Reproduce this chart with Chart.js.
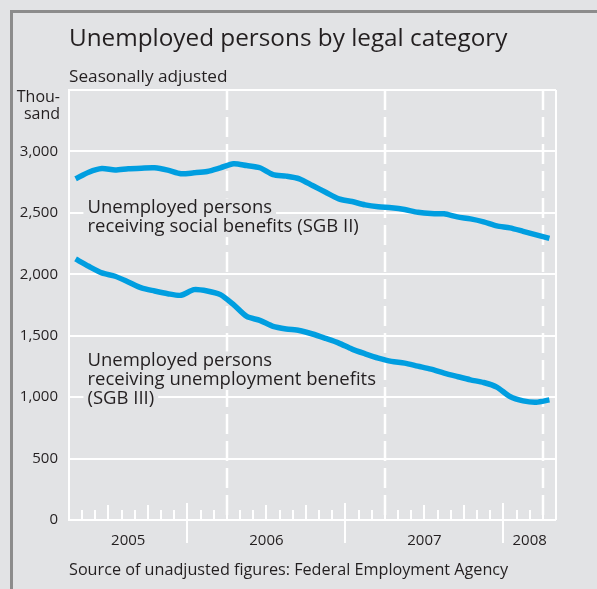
<!DOCTYPE html>
<html>
<head>
<meta charset="utf-8">
<script src="https://cdn.jsdelivr.net/npm/chart.js@4.4.1/dist/chart.umd.min.js"></script>
<style>
    html, body { margin: 0; padding: 0; background: #e2e3e5; }
    #chart_container { width: 597px; height: 589px; }
</style>
</head>
<body>
<div id="chart_container">
    <canvas id="unemployed_chart" width="597" height="589"></canvas>
</div>
<script>
    // one value per month, April 2005 - April 2008, thousand persons
    const months = [
        'Apr 2005', 'May 2005', 'Jun 2005', 'Jul 2005', 'Aug 2005', 'Sep 2005', 'Oct 2005', 'Nov 2005', 'Dec 2005',
        'Jan 2006', 'Feb 2006', 'Mar 2006', 'Apr 2006', 'May 2006', 'Jun 2006', 'Jul 2006', 'Aug 2006', 'Sep 2006',
        'Oct 2006', 'Nov 2006', 'Dec 2006',
        'Jan 2007', 'Feb 2007', 'Mar 2007', 'Apr 2007', 'May 2007', 'Jun 2007', 'Jul 2007', 'Aug 2007', 'Sep 2007',
        'Oct 2007', 'Nov 2007', 'Dec 2007',
        'Jan 2008', 'Feb 2008', 'Mar 2008', 'Apr 2008'
    ];
    const sgbII = [
        2777, 2831, 2861, 2848, 2859, 2864, 2867, 2848, 2818,
        2826, 2837, 2867, 2900, 2885, 2867, 2812, 2799, 2777, 2723, 2668, 2614,
        2592, 2565, 2549, 2541, 2527, 2505, 2494, 2492, 2467, 2451, 2427, 2394,
        2378, 2350, 2321, 2293
    ];
    const sgbIII = [
        2125, 2065, 2011, 1984, 1938, 1889, 1864, 1842, 1829,
        1875, 1864, 1834, 1753, 1657, 1625, 1576, 1555, 1543, 1514, 1478, 1440,
        1391, 1353, 1318, 1291, 1277, 1252, 1228, 1196, 1168, 1141, 1119, 1082,
        1005, 970, 959, 978
    ];
    const yTicks = [0, 500, 1000, 1500, 2000, 2500, 3000];
    const yMax = 3500;

    const BG = '#e2e3e5';
    const INK = '#231f20';
    const BLUE = '#009ee0';
    const FONT = '"Open Sans", "Noto Sans", sans-serif';

    const toPoints = (values) => values.map((v, i) => ({ x: i + 0.5, y: v }));

    const decorations = {
        id: 'decorations',
        beforeDraw(chart) {
            const c = chart.ctx;
            const a = chart.chartArea;
            c.save();
            c.fillStyle = BG;
            c.fillRect(0, 0, chart.width, chart.height);
            // grey frame top and left
            c.fillStyle = '#8c8c8c';
            c.fillRect(10, 10, chart.width - 10, 3);
            c.fillRect(10, 10, 3, chart.height - 10);

            c.fillStyle = INK;
            c.textAlign = 'left';
            c.textBaseline = 'alphabetic';
            c.font = '24.3px ' + FONT;
            c.fillText('Unemployed persons by legal category', a.left, 46);
            c.font = '17.2px ' + FONT;
            c.fillText('Seasonally adjusted', a.left, 82);
            c.textAlign = 'right';
            c.font = '16px ' + FONT;
            c.fillText('Thou-', 60, 102);
            c.fillText('sand', 60, 119);
            c.textAlign = 'left';
            c.font = '16.2px ' + FONT;
            c.fillText('Source of unadjusted figures: Federal Employment Agency', a.left, a.bottom + 55);
            c.restore();
        },
        beforeDatasetsDraw(chart) {
            const c = chart.ctx;
            const a = chart.chartArea;
            const x = chart.scales.x;
            const y = chart.scales.y;
            c.save();
            c.strokeStyle = '#ffffff';
            c.lineWidth = 2;

            // right border
            c.beginPath();
            c.moveTo(a.right, a.top);
            c.lineTo(a.right, a.bottom);
            c.stroke();

            // month / quarter / year ticks
            const yearStarts = [0];
            months.forEach((m, i) => {
                if (i === 0) return;
                const px = Math.round(x.getPixelForValue(i));
                const mon = m.slice(0, 3);
                let top = a.bottom - 10, bottom = a.bottom;
                if (mon === 'Jan') {
                    top = a.bottom - 17; bottom = a.bottom + 23;
                    yearStarts.push(i);
                } else if (['Apr', 'Jul', 'Oct'].includes(mon)) {
                    top = a.bottom - 15;
                }
                c.beginPath();
                c.moveTo(px, top);
                c.lineTo(px, bottom);
                c.stroke();

                // dashed line at each April
                if (mon === 'Apr') {
                    c.save();
                    c.setLineDash([20, 7]);
                    c.lineWidth = 2.5;
                    c.beginPath();
                    c.moveTo(px, a.top);
                    c.lineTo(px, a.bottom);
                    c.stroke();
                    c.restore();
                }
            });
            yearStarts.push(months.length);

            // year labels
            c.fillStyle = INK;
            c.font = '15px ' + FONT;
            c.textAlign = 'center';
            c.textBaseline = 'alphabetic';
            for (let k = 0; k < yearStarts.length - 1; k++) {
                const mid = (x.getPixelForValue(yearStarts[k]) + x.getPixelForValue(yearStarts[k + 1])) / 2;
                c.fillText(months[yearStarts[k]].slice(4), mid, a.bottom + 25);
            }

            // series labels with background patches over the grid
            const labels = [
                { at: [1.4, 2495], lines: ['Unemployed persons', 'receiving social benefits (SGB II)'] },
                { at: [1.4, 1250], lines: ['Unemployed persons', 'receiving unemployment benefits', '(SGB III)'] }
            ];
            c.font = '18.5px ' + FONT;
            c.textAlign = 'left';
            labels.forEach(l => {
                const lx = x.getPixelForValue(l.at[0]);
                const ly = y.getPixelForValue(l.at[1]);
                c.fillStyle = BG;
                l.lines.forEach((t, j) => {
                    const w = c.measureText(t).width;
                    c.fillRect(lx - 4, ly + j * 18.6 - 15, w + 8, 20);
                });
                c.fillStyle = INK;
                l.lines.forEach((t, j) => c.fillText(t, lx, ly + j * 18.6));
            });
            c.restore();
        }
    };

    new Chart(document.getElementById('unemployed_chart'), {
        type: 'line',
        data: {
            datasets: [
                { label: 'SGB II', data: toPoints(sgbII) },
                { label: 'SGB III', data: toPoints(sgbIII) }
            ]
        },
        options: {
            responsive: false,
            animation: false,
            layout: { padding: { left: 0, top: 90, right: 41, bottom: 69 } },
            elements: {
                line: { borderColor: BLUE, borderWidth: 5.5, tension: 0.25, borderCapStyle: 'butt', fill: false },
                point: { radius: 0 }
            },
            scales: {
                x: {
                    type: 'linear',
                    display: false,
                    min: 0,
                    max: months.length
                },
                y: {
                    min: 0,
                    max: yMax,
                    afterFit: (s) => { s.width = 69; },
                    afterBuildTicks: (s) => { s.ticks = yTicks.concat([yMax]).map(v => ({ value: v })); },
                    border: { display: true, color: '#ffffff', width: 2 },
                    grid: { color: '#ffffff', lineWidth: 2, drawTicks: false },
                    ticks: {
                        padding: 11,
                        color: INK,
                        font: { family: FONT, size: 15 },
                        callback: (v) => (v === yMax ? '' : v.toLocaleString('en-US'))
                    }
                }
            },
            plugins: {
                legend: { display: false },
                tooltip: { enabled: false }
            }
        },
        plugins: [decorations]
    });
</script>
</body>
</html>
